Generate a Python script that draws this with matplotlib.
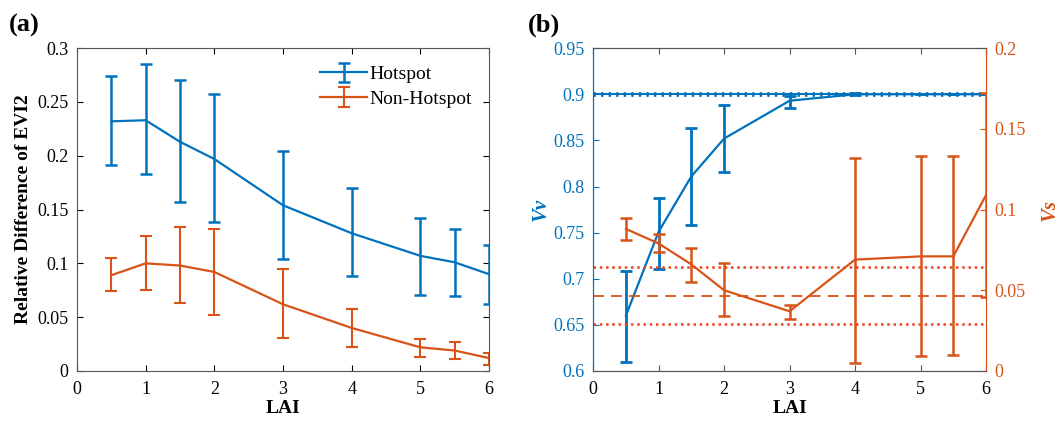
import matplotlib.pyplot as plt
import numpy as np

plt.rcParams['font.family'] = ['Liberation Serif', 'DejaVu Serif']

BLUE = '#0072BD'
ORANGE = '#D95319'
RED = '#F0401E'

# данные панели (a)
lai = [0.5, 1, 1.5, 2, 3, 4, 5, 5.5, 6]
hot_mean = [0.232, 0.233, 0.213, 0.197, 0.154, 0.128, 0.107, 0.101, 0.090]
hot_up = [0.274, 0.285, 0.270, 0.257, 0.204, 0.170, 0.142, 0.132, 0.117]
hot_low = [0.191, 0.183, 0.157, 0.138, 0.104, 0.088, 0.071, 0.070, 0.062]
non_mean = [0.089, 0.100, 0.098, 0.092, 0.062, 0.040, 0.022, 0.019, 0.012]
non_up = [0.105, 0.125, 0.134, 0.132, 0.095, 0.058, 0.030, 0.027, 0.017]
non_low = [0.074, 0.075, 0.063, 0.052, 0.031, 0.022, 0.013, 0.011, 0.006]

# данные панели (b)
vv_mean = [0.660, 0.751, 0.811, 0.852, 0.893, 0.900, 0.900, 0.900, 0.900]
vv_up = [0.708, 0.788, 0.863, 0.888, 0.898, 0.901, 0.900, 0.900, 0.900]
vv_low = [0.610, 0.711, 0.758, 0.816, 0.885, 0.899, 0.900, 0.900, 0.900]
vs_mean = [0.088, 0.079, 0.066, 0.050, 0.037, 0.069, 0.071, 0.071, 0.109]
vs_up = [0.095, 0.085, 0.076, 0.067, 0.041, 0.132, 0.133, 0.133, 0.172]
vs_low = [0.081, 0.074, 0.055, 0.034, 0.032, 0.005, 0.009, 0.010, 0.046]
vv_ref = 0.9
vs_ref = 0.0467
vs_band = [0.029, 0.0645]


def err(mean, up, low):
    m = np.array(mean)
    return [m - np.array(low), np.array(up) - m]


def matlab_ticks(ax):
    ax.tick_params(direction='in', top=True, labelsize=13, length=4)
    ax.tick_params(axis='x', pad=7)
    ax.tick_params(axis='y', pad=6)


fig = plt.figure(figsize=(10.63, 4.22), dpi=100)

# (a)
ax1 = fig.add_axes([0.0724, 0.1209, 0.3876, 0.765])
ax1.errorbar(lai, hot_mean, yerr=err(hot_mean, hot_up, hot_low), color=BLUE,
             lw=1.6, elinewidth=1.8, capsize=4, capthick=1.8, label='Hotspot')
ax1.errorbar(lai, non_mean, yerr=err(non_mean, non_up, non_low), color=ORANGE,
             lw=1.6, elinewidth=1.5, capsize=4, capthick=1.5, label='Non-Hotspot')
ax1.set_xlim(0, 6)
ax1.set_ylim(0, 0.3)
ax1.set_yticks([0, 0.05, 0.1, 0.15, 0.2, 0.25, 0.3])
ax1.set_yticklabels(['0', '0.05', '0.1', '0.15', '0.2', '0.25', '0.3'])
matlab_ticks(ax1)
ax1.tick_params(right=True)
for s in ax1.spines.values():
    s.set_color('#555555')
ax1.set_xlabel('LAI', fontsize=14, fontweight='bold', labelpad=2)
ax1.set_ylabel('Relative Difference of EVI2', fontsize=14, fontweight='bold')
ax1.legend(loc='upper right', frameon=False, fontsize=14, handlelength=2.4,
           handletextpad=0.1, borderaxespad=0.5, labelspacing=0.35)
fig.text(0.008, 0.925, '(a)', fontsize=19, fontweight='bold')

# (b)
ax2 = fig.add_axes([0.558, 0.1209, 0.3696, 0.765])
ax3 = ax2.twinx()
ax2.axhline(vv_ref, color=BLUE, lw=1.4)
ax2.axhline(vv_ref, color=BLUE, lw=3.4, ls=(0, (0.5, 1.1)))
ax2.errorbar(lai, vv_mean, yerr=err(vv_mean, vv_up, vv_low), color=BLUE,
             lw=1.6, elinewidth=2.0, capsize=4, capthick=2.0)
ax3.axhline(vs_ref, color=ORANGE, lw=1.3, ls=(0, (6, 4)))
for v in vs_band:
    ax3.axhline(v, color=RED, lw=1.8, ls=(0, (1, 1.5)))
ax3.errorbar(lai, vs_mean, yerr=err(vs_mean, vs_up, vs_low), color=ORANGE,
             lw=1.6, elinewidth=1.8, capsize=4, capthick=1.8)

ax2.set_xlim(0, 6)
ax2.set_ylim(0.6, 0.95)
ax2.set_yticks([0.6, 0.65, 0.7, 0.75, 0.8, 0.85, 0.9, 0.95])
ax2.set_yticklabels(['0.6', '0.65', '0.7', '0.75', '0.8', '0.85', '0.9', '0.95'])
ax3.set_ylim(0, 0.2)
ax3.set_yticks([0, 0.05, 0.1, 0.15, 0.2])
ax3.set_yticklabels(['0', '0.05', '0.1', '0.15', '0.2'])
matlab_ticks(ax2)
ax3.tick_params(direction='in', labelsize=13, length=4, colors=ORANGE, pad=6)
ax2.tick_params(axis='y', colors=BLUE)
ax2.tick_params(axis='x', colors='#555555', labelcolor='black')
ax2.spines['left'].set_color(BLUE)
ax3.spines['left'].set_color(BLUE)
ax3.spines['right'].set_color(ORANGE)
ax2.spines['right'].set_color(ORANGE)
for a in (ax2, ax3):
    a.spines['top'].set_color('#555555')
    a.spines['bottom'].set_color('#555555')
ax2.set_xlabel('LAI', fontsize=14, fontweight='bold', labelpad=2)
ax2.set_ylabel('Vv', fontsize=15, fontweight='bold', style='italic', color=BLUE, labelpad=2)
ax3.set_ylabel('Vs', fontsize=15, fontweight='bold', style='italic', color=ORANGE, labelpad=10)
fig.text(0.497, 0.925, '(b)', fontsize=19, fontweight='bold')

fig.savefig('out.png', dpi=100)
